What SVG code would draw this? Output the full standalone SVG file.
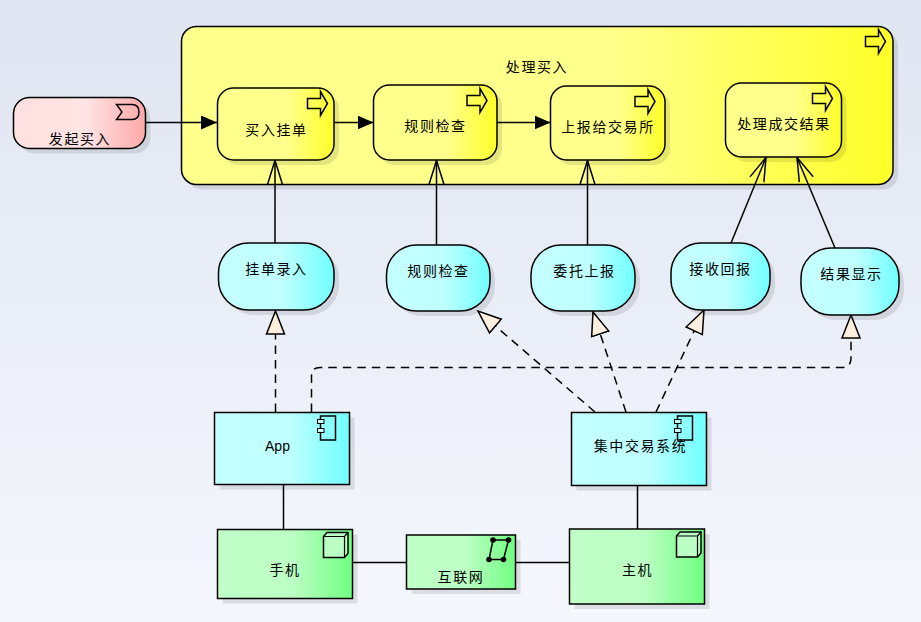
<svg xmlns="http://www.w3.org/2000/svg" xmlns:xlink="http://www.w3.org/1999/xlink" width="921" height="622" viewBox="0 0 921 622">
<style>
.b{stroke:#000;stroke-width:1.5}
.s{fill:#000;fill-opacity:.1;stroke:none}
.i{fill:none;stroke:#000;stroke-width:1.5}
.c{fill:none;stroke:#000;stroke-width:1.5}
.d{stroke-dasharray:8.500 6}
.t{font-family:"Noto Sans CJK SC","Liberation Sans",sans-serif;font-size:14px;letter-spacing:1.6px;text-anchor:middle;fill:#000}
</style>
<defs>
<linearGradient id="bg" x1="0" y1="0" x2="0" y2="1"><stop offset="0" stop-color="#dfe5f1"/><stop offset="1" stop-color="#f5f7fd"/></linearGradient>
<linearGradient id="y"><stop offset="0" stop-color="#ffff8c"/><stop offset=".6" stop-color="#ffff8c"/><stop offset="1" stop-color="#ffff28"/></linearGradient>
<linearGradient id="r"><stop offset="0" stop-color="#ffe0e0"/><stop offset=".55" stop-color="#ffe4e4"/><stop offset="1" stop-color="#ffa8a8"/></linearGradient>
<linearGradient id="a"><stop offset="0" stop-color="#c4ffff"/><stop offset=".55" stop-color="#c0ffff"/><stop offset="1" stop-color="#70ffff"/></linearGradient>
<linearGradient id="g"><stop offset="0" stop-color="#c0ffc8"/><stop offset=".55" stop-color="#bcffc4"/><stop offset="1" stop-color="#70ff80"/></linearGradient>
<marker id="solid" markerUnits="userSpaceOnUse" markerWidth="18" markerHeight="14" refX="16" refY="7" orient="auto"><path d="M0 0L16 7L0 14Z" fill="#000"/></marker>
<marker id="open" markerUnits="userSpaceOnUse" markerWidth="26" markerHeight="20" refX="24" refY="10" orient="auto"><path d="M0 2.500L24 10L0 17.500" fill="none" stroke="#000" stroke-width="1.500"/></marker>
<marker id="tri" markerUnits="userSpaceOnUse" markerWidth="26" markerHeight="22" refX="24" refY="11" orient="auto"><path d="M1 2L24 11L1 20Z" fill="#fdeedd" stroke="#000" stroke-width="1.500"/></marker>
<path id="proc" d="M0 7H13V0L20 12L13 24V17H0Z" fill="none" stroke="#000" stroke-width="1.500"/>
<g id="comp"><path d="M3 1H18V25H3Z" fill="none" stroke="#000" stroke-width="1.500"/><rect x="0" y="4.500" width="6.500" height="4" fill="#c4ffff" stroke="#000"/><rect x="0" y="13.500" width="6.500" height="4" fill="#c4ffff" stroke="#000"/></g>
<g id="dev"><path d="M0 4L3.500 0H24.500V21L21 25H0Z" fill="#bcffc4" stroke="#000" stroke-width="1.500"/><path d="M0 4H21V25M21 4L24.500 0" fill="none" stroke="#000" stroke-width="1.200"/></g>
</defs>
<rect width="921" height="622" fill="url(#bg)"/>

<g id="n-process">
<rect class="s" x="186.500" y="31.500" width="711.500" height="158" rx="15"/>
<rect class="b" x="181.500" y="26.500" width="711.500" height="158" rx="15" fill="url(#y)"/>
<use xlink:href="#proc" x="865.500" y="29.500"/>
<text class="t" x="537" y="72">处理买入</text>
</g>

<g id="connectors">
<path class="c" d="M146 122.500H217" marker-end="url(#solid)"/>
<path class="c" d="M334 122.500H373.500" marker-end="url(#solid)"/>
<path class="c" d="M497 122.500H550.500" marker-end="url(#solid)"/>
<path class="c" d="M275 243V160.500" marker-end="url(#open)"/>
<path class="c" d="M436.500 245V160.500" marker-end="url(#open)"/>
<path class="c" d="M587.500 245V160.500" marker-end="url(#open)"/>
<path class="c" d="M731 243L766 157.500" marker-end="url(#open)"/>
<path class="c" d="M835 248L797 157.500" marker-end="url(#open)"/>
<path class="c d" d="M275.500 412V311" marker-end="url(#tri)"/>
<path class="c d" d="M311.500 412V376Q311.500 367.500 320 367.500H842Q851 367.500 851 358V315" marker-end="url(#tri)"/>
<path class="c d" d="M595 412L478 311" marker-end="url(#tri)"/>
<path class="c d" d="M626 412L593 312" marker-end="url(#tri)"/>
<path class="c d" d="M656 412L704 310" marker-end="url(#tri)"/>
<path class="c" d="M283.500 484.500V529.500"/>
<path class="c" d="M637.500 485.500V529"/>
<path class="c" d="M352.500 562.500H406.500"/>
<path class="c" d="M515.500 562.500H569.500"/>
</g>

<g id="n-trigger">
<rect class="s" x="18.500" y="102.500" width="132" height="51" rx="16"/>
<rect class="b" x="13.500" y="97.500" width="132" height="51" rx="16" fill="url(#r)"/>
<path class="i" d="M116.500 104.500H132Q139 104.500 139 112T132 119.500H116.500L122 112Z"/>
<text class="t" x="80" y="144">发起买入</text>
</g>
<g id="n-p1">
<rect class="s" x="222.500" y="93" width="116.500" height="72" rx="16"/>
<rect class="b" x="217.500" y="88" width="116.500" height="72" rx="16" fill="url(#y)"/>
<use xlink:href="#proc" x="307.500" y="91.500"/>
<text class="t" x="276.500" y="135">买入挂单</text>
</g>
<g id="n-p2">
<rect class="s" x="378.500" y="90" width="123.500" height="75" rx="16"/>
<rect class="b" x="373.500" y="85" width="123.500" height="75" rx="16" fill="url(#y)"/>
<use xlink:href="#proc" x="467" y="88.500"/>
<text class="t" x="435.500" y="131">规则检查</text>
</g>
<g id="n-p3">
<rect class="s" x="555.500" y="91" width="114.500" height="74" rx="16"/>
<rect class="b" x="550.500" y="86" width="114.500" height="74" rx="16" fill="url(#y)"/>
<use xlink:href="#proc" x="635" y="89.500"/>
<text class="t" x="608" y="132">上报给交易所</text>
</g>
<g id="n-p4">
<rect class="s" x="730.500" y="88" width="116" height="74" rx="16"/>
<rect class="b" x="725.500" y="83" width="116" height="74" rx="16" fill="url(#y)"/>
<use xlink:href="#proc" x="812.500" y="86.500"/>
<text class="t" x="784" y="129">处理成交结果</text>
</g>

<g id="n-f1">
<rect class="s" x="223.500" y="248" width="115.500" height="67" rx="30"/>
<rect class="b" x="218.500" y="243" width="115.500" height="67" rx="30" fill="url(#a)"/>
<text class="t" x="276.500" y="274">挂单录入</text>
</g>
<g id="n-f2">
<rect class="s" x="391.500" y="250" width="103.500" height="66" rx="30"/>
<rect class="b" x="386.500" y="245" width="103.500" height="66" rx="30" fill="url(#a)"/>
<text class="t" x="438.500" y="276">规则检查</text>
</g>
<g id="n-f3">
<rect class="s" x="536" y="250" width="104" height="66" rx="30"/>
<rect class="b" x="531" y="245" width="104" height="66" rx="30" fill="url(#a)"/>
<text class="t" x="584.500" y="276">委托上报</text>
</g>
<g id="n-f4">
<rect class="s" x="676" y="248" width="99" height="67" rx="30"/>
<rect class="b" x="671" y="243" width="99" height="67" rx="30" fill="url(#a)"/>
<text class="t" x="720.500" y="274">接收回报</text>
</g>
<g id="n-f5">
<rect class="s" x="806" y="253" width="98" height="67" rx="30"/>
<rect class="b" x="801" y="248" width="98" height="67" rx="30" fill="url(#a)"/>
<text class="t" x="851.500" y="279">结果显示</text>
</g>

<g id="n-app">
<rect class="s" x="219.500" y="417.500" width="135" height="72"/>
<rect class="b" x="214.500" y="412.500" width="135" height="72" fill="url(#a)"/>
<use xlink:href="#comp" x="317.500" y="415"/>
<text class="t" x="277.500" y="451" style="font-family:'Liberation Sans',sans-serif;letter-spacing:0">App</text>
</g>
<g id="n-sys">
<rect class="s" x="576.500" y="417.500" width="135" height="73"/>
<rect class="b" x="571.500" y="412.500" width="135" height="73" fill="url(#a)"/>
<use xlink:href="#comp" x="674.500" y="415"/>
<text class="t" x="640.500" y="451">集中交易系统</text>
</g>
<g id="n-phone">
<rect class="s" x="222.500" y="534.500" width="135" height="69"/>
<rect class="b" x="217.500" y="529.500" width="135" height="69" fill="url(#g)"/>
<use xlink:href="#dev" x="323.500" y="532.500"/>
<text class="t" x="285" y="575">手机</text>
</g>
<g id="n-net">
<rect class="s" x="411.500" y="540" width="109" height="54"/>
<rect class="b" x="406.500" y="535" width="109" height="54" fill="url(#g)"/>
<path class="i" d="M493 540H508.500L503.500 559.500H489Z"/>
<circle cx="493" cy="540" r="2.800"/><circle cx="508.500" cy="540" r="2.800"/><circle cx="503.500" cy="559.500" r="2.800"/><circle cx="489" cy="559.500" r="2.800"/>
<text class="t" x="461" y="582">互联网</text>
</g>
<g id="n-host">
<rect class="s" x="574.500" y="534" width="135" height="75"/>
<rect class="b" x="569.500" y="529" width="135" height="75" fill="url(#g)"/>
<use xlink:href="#dev" x="676.500" y="532"/>
<text class="t" x="637.500" y="575">主机</text>
</g>
</svg>
